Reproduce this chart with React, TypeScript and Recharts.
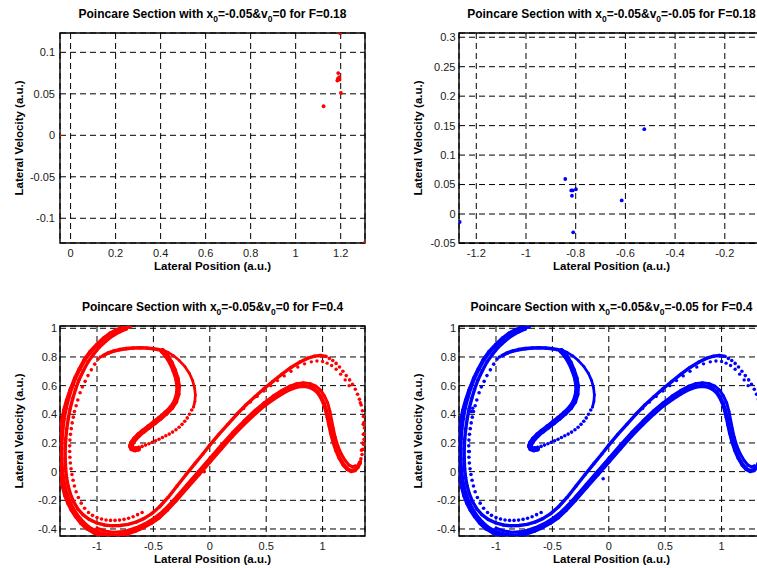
import React from 'react';
import { ScatterChart, Scatter, XAxis, YAxis, CartesianGrid, ReferenceArea } from 'recharts';

type XY = [number, number];

// ---------- F = 0.18 sections ----------
const sectionA018: XY[] = [
  [-0.05, 0], [1.197, 0.123], [1.189, 0.075], [1.193, 0.07], [1.187, 0.068],
  [1.195, 0.067], [1.185, 0.066], [1.201, 0.051], [1.124, 0.035], [1.305, -0.13],
];
const sectionB018: XY[] = [
  [-1.267, -0.0136], [-0.842, 0.0594], [-0.818, 0.04], [-0.812, 0.04], [-0.815, 0.031],
  [-0.799, 0.042], [-0.81, -0.031], [-0.615, 0.023], [-0.524, 0.144],
];

// ---------- F = 0.4 attractor strands ----------
const outerLoop: XY[] = [
  [-0.71, 1.012], [-0.76, 1.005], [-0.82, 0.99], [-0.88, 0.965], [-0.94, 0.93], [-1.0, 0.885],
  [-1.06, 0.835], [-1.11, 0.78], [-1.155, 0.715], [-1.195, 0.65], [-1.228, 0.58], [-1.255, 0.51],
  [-1.278, 0.44], [-1.294, 0.37], [-1.306, 0.3], [-1.313, 0.23], [-1.316, 0.16], [-1.315, 0.09],
  [-1.311, 0.02], [-1.302, -0.04], [-1.289, -0.1], [-1.27, -0.155], [-1.247, -0.205], [-1.216, -0.255],
  [-1.176, -0.305], [-1.128, -0.35], [-1.075, -0.388], [-1.01, -0.418], [-0.94, -0.438], [-0.87, -0.445],
  [-0.8, -0.443], [-0.73, -0.432], [-0.66, -0.413], [-0.59, -0.388], [-0.52, -0.358], [-0.45, -0.32],
  [-0.38, -0.268], [-0.3, -0.2], [-0.2, -0.11], [-0.1, -0.02], [0.0, 0.07], [0.1, 0.16],
  [0.2, 0.25], [0.3, 0.33], [0.4, 0.405], [0.48, 0.46], [0.56, 0.505], [0.64, 0.545],
  [0.71, 0.575], [0.77, 0.592], [0.83, 0.598], [0.88, 0.592], [0.92, 0.578], [0.955, 0.555],
  [0.985, 0.52], [1.01, 0.478], [1.03, 0.43], [1.045, 0.38], [1.06, 0.325], [1.075, 0.27],
  [1.095, 0.21], [1.12, 0.15], [1.15, 0.095], [1.185, 0.048], [1.22, 0.017], [1.255, 0.004],
  [1.285, 0.01], [1.31, 0.03], [1.33, 0.06],
];
const outerEdge: XY[] = [
  [-1.2, 0.64], [-1.24, 0.57], [-1.27, 0.5], [-1.295, 0.43], [-1.312, 0.36], [-1.324, 0.29],
  [-1.33, 0.22], [-1.332, 0.15], [-1.33, 0.08], [-1.326, 0.01], [-1.318, -0.05], [-1.305, -0.11],
  [-1.285, -0.17], [-1.26, -0.22], [-1.228, -0.27], [-1.19, -0.315], [-1.145, -0.36], [-1.09, -0.4],
  [-1.03, -0.428], [-0.96, -0.447], [-0.89, -0.455], [-0.82, -0.453],
];
const lowerSubBand: XY[] = [
  [-1.0, -0.395], [-0.93, -0.414], [-0.86, -0.422], [-0.79, -0.42], [-0.72, -0.408], [-0.65, -0.39],
  [-0.58, -0.365], [-0.51, -0.333], [-0.44, -0.292], [-0.37, -0.24], [-0.29, -0.17], [-0.2, -0.088],
  [-0.1, 0.003], [0.0, 0.094], [0.1, 0.184], [0.2, 0.272], [0.3, 0.352], [0.4, 0.427],
  [0.48, 0.48], [0.56, 0.527], [0.64, 0.567], [0.71, 0.597], [0.77, 0.614], [0.83, 0.62],
  [0.89, 0.614], [0.94, 0.597], [0.98, 0.57], [1.015, 0.53], [1.045, 0.48], [1.065, 0.42],
  [1.08, 0.36], [1.095, 0.3], [1.112, 0.24], [1.135, 0.18], [1.165, 0.125], [1.2, 0.078],
  [1.235, 0.045], [1.265, 0.033], [1.29, 0.04],
];
const innerLoop: XY[] = [
  [-0.74, 0.995], [-0.8, 0.975], [-0.86, 0.948], [-0.92, 0.912], [-0.98, 0.868], [-1.03, 0.82],
  [-1.08, 0.765], [-1.12, 0.705], [-1.16, 0.64], [-1.19, 0.575], [-1.215, 0.51], [-1.238, 0.44],
  [-1.255, 0.37], [-1.268, 0.3], [-1.277, 0.23], [-1.282, 0.16], [-1.282, 0.09], [-1.278, 0.02],
  [-1.27, -0.04], [-1.256, -0.1], [-1.236, -0.155], [-1.208, -0.21], [-1.17, -0.26], [-1.125, -0.3],
  [-1.07, -0.333], [-1.005, -0.357], [-0.935, -0.372], [-0.865, -0.378], [-0.795, -0.376], [-0.725, -0.368],
  [-0.655, -0.352], [-0.585, -0.328], [-0.515, -0.293], [-0.445, -0.245], [-0.37, -0.18], [-0.29, -0.1],
  [-0.21, -0.02], [-0.13, 0.058], [-0.06, 0.125], [0.0, 0.185], [0.08, 0.26], [0.16, 0.33],
  [0.24, 0.4], [0.32, 0.465], [0.4, 0.523], [0.48, 0.578], [0.56, 0.63], [0.64, 0.68],
  [0.72, 0.727], [0.8, 0.765], [0.87, 0.792], [0.93, 0.806], [0.98, 0.81], [1.03, 0.804],
];
const upperSubDots: XY[] = [
  [0.3, 0.44], [0.36, 0.485], [0.42, 0.525], [0.48, 0.562], [0.54, 0.6], [0.6, 0.635],
  [0.66, 0.668], [0.72, 0.7], [0.78, 0.73], [0.84, 0.752], [0.9, 0.766], [0.95, 0.772],
  [1.0, 0.768], [1.04, 0.757], [1.08, 0.74], [1.12, 0.714], [1.16, 0.68], [1.2, 0.64], [1.235, 0.6],
];
const rightEdgeDots: XY[] = [
  [1.06, 0.79], [1.09, 0.775], [1.12, 0.755], [1.15, 0.73], [1.18, 0.7], [1.21, 0.67],
  [1.24, 0.64], [1.265, 0.61], [1.29, 0.575], [1.31, 0.54], [1.327, 0.505], [1.342, 0.465],
  [1.353, 0.425], [1.362, 0.385], [1.368, 0.345], [1.371, 0.305], [1.371, 0.265], [1.368, 0.225],
  [1.364, 0.19], [1.358, 0.155], [1.35, 0.12], [1.34, 0.09], [1.335, 0.07],
  [1.335, 0.48], [1.36, 0.33], [1.362, 0.26], [1.355, 0.2], [1.345, 0.15],
];
const leftDottedStrand: XY[] = [
  [-0.97, 0.8], [-0.99, 0.785], [-1.02, 0.75], [-1.05, 0.71], [-1.08, 0.67], [-1.105, 0.63],
  [-1.13, 0.59], [-1.15, 0.55], [-1.17, 0.5], [-1.185, 0.46], [-1.2, 0.42], [-1.21, 0.38],
  [-1.22, 0.34], [-1.228, 0.3], [-1.235, 0.26], [-1.24, 0.22], [-1.242, 0.18], [-1.242, 0.14],
  [-1.24, 0.1], [-1.236, 0.06], [-1.23, 0.02], [-1.222, -0.02], [-1.212, -0.06], [-1.2, -0.1],
  [-1.185, -0.14], [-1.165, -0.18], [-1.14, -0.22], [-1.11, -0.255], [-1.075, -0.285], [-1.04, -0.305],
  [-1.0, -0.32], [-0.96, -0.33], [-0.92, -0.337], [-0.88, -0.34], [-0.84, -0.34], [-0.8, -0.338],
  [-0.76, -0.333], [-0.72, -0.325], [-0.68, -0.315], [-0.64, -0.3], [-0.6, -0.285],
];
const hookTop: XY[] = [
  [-0.945, 0.81], [-0.9, 0.828], [-0.85, 0.842], [-0.8, 0.851], [-0.74, 0.858], [-0.68, 0.862],
  [-0.62, 0.864], [-0.56, 0.862], [-0.5, 0.857], [-0.46, 0.852], [-0.42, 0.845],
];
const hookInner: XY[] = [
  [-0.42, 0.842], [-0.38, 0.805], [-0.345, 0.76], [-0.315, 0.705], [-0.292, 0.65], [-0.28, 0.595],
  [-0.285, 0.54], [-0.305, 0.49], [-0.34, 0.447], [-0.39, 0.408], [-0.44, 0.374], [-0.49, 0.343],
  [-0.54, 0.312], [-0.59, 0.282], [-0.63, 0.256], [-0.665, 0.228], [-0.69, 0.2], [-0.7, 0.178],
  [-0.69, 0.162], [-0.665, 0.155], [-0.635, 0.16],
];
const hookOuter: XY[] = [
  [-0.42, 0.848], [-0.37, 0.832], [-0.32, 0.808], [-0.27, 0.775], [-0.22, 0.732], [-0.18, 0.685],
  [-0.152, 0.635], [-0.135, 0.585], [-0.128, 0.535], [-0.132, 0.49], [-0.145, 0.45],
];
const hookOuterDots: XY[] = [
  [-0.16, 0.43], [-0.18, 0.4], [-0.2, 0.375], [-0.222, 0.352], [-0.246, 0.33], [-0.272, 0.31],
  [-0.3, 0.292], [-0.33, 0.276], [-0.36, 0.262], [-0.39, 0.25], [-0.42, 0.238], [-0.45, 0.226],
  [-0.48, 0.215], [-0.51, 0.205], [-0.54, 0.195], [-0.57, 0.185], [-0.6, 0.176], [-0.63, 0.169],
  [-0.66, 0.164],
];
const strayA04: XY[] = [[-0.05, 0]];
const strayB04: XY[] = [[-0.05, -0.05], [-1.207, 0.442], [-1.22, 0.42], [-1.237, 0.14]];

// ---------- axes ----------
const ticksXA018 = [0, 0.2, 0.4, 0.6, 0.8, 1, 1.2];
const ticksYA018 = [-0.1, -0.05, 0, 0.05, 0.1];
const ticksXB018 = [-1.2, -1, -0.8, -0.6, -0.4, -0.2];
const ticksYB018 = [-0.05, 0, 0.05, 0.1, 0.15, 0.2, 0.25, 0.3];
const ticksX04 = [-1, -0.5, 0, 0.5, 1];
const ticksY04 = [-0.4, -0.2, 0, 0.2, 0.4, 0.6, 0.8, 1];

const FONT = '"Liberation Sans", Arial, Helvetica, sans-serif';
const CHART_W = 380;
const CHART_H = 285;
const PLOT_TOP = 33;
const Y_AXIS_W = 60;
const RIGHT = 15;

const rows = (a: XY[]) => a.map(([x, y]) => ({ x, y }));

type Layer = { data: XY[]; line: number; r: number };

const attractorLayers: Layer[] = [
  { data: outerEdge, line: 3.2, r: 1.6 },
  { data: outerLoop, line: 4.2, r: 2.1 },
  { data: lowerSubBand, line: 3.0, r: 1.5 },
  { data: innerLoop, line: 3.4, r: 1.7 },
  { data: upperSubDots, line: 0, r: 1.7 },
  { data: rightEdgeDots, line: 0, r: 1.8 },
  { data: leftDottedStrand, line: 0, r: 1.8 },
  { data: hookTop, line: 3.6, r: 1.8 },
  { data: hookInner, line: 5.6, r: 2.8 },
  { data: hookOuter, line: 2.7, r: 1.4 },
  { data: hookOuterDots, line: 0, r: 1.8 },
];

const dotShape = (r: number, color: string) => (props: any) => (
  <circle cx={props.cx} cy={props.cy} r={r} fill={color} />
);

type TitleProps = { x0: string; v0: string; f: string; cx: number };

function Title({ x0, v0, f, cx }: TitleProps) {
  return (
    <svg width={CHART_W} height={28} style={{ position: 'absolute', left: 0, top: 0, overflow: 'visible' }}>
      <text x={cx} y={18} textAnchor="middle" fontFamily={FONT} fontSize={12} fontWeight="bold" fill="#000">
        {'Poincare Section with x'}
        <tspan dy={3.5} fontSize={8.5}>0</tspan>
        <tspan dy={-3.5}>{`=${x0}&v`}</tspan>
        <tspan dy={3.5} fontSize={8.5}>0</tspan>
        <tspan dy={-3.5}>{`=${v0} for F=${f}`}</tspan>
      </text>
    </svg>
  );
}

type PanelProps = {
  left: number;
  top: number;
  xDomain: [number, number];
  yDomain: [number, number];
  xTicks: number[];
  yTicks: number[];
  yGap: number;
  color: string;
  layers: Layer[];
  x0: string;
  v0: string;
  f: string;
};

function Panel({ left, top, xDomain, yDomain, xTicks, yTicks, yGap, color, layers, x0, v0, f }: PanelProps) {
  const tick = { fontSize: 11, fill: '#1a1a1a', fontFamily: FONT };
  const plotCx = Y_AXIS_W + (CHART_W - Y_AXIS_W - RIGHT) / 2;
  return (
    <div style={{ position: 'absolute', left, top, width: CHART_W, height: CHART_H }}>
      <ScatterChart width={CHART_W} height={CHART_H} margin={{ top: PLOT_TOP, right: RIGHT, bottom: 0, left: 0 }}>
        <CartesianGrid stroke="#000" strokeWidth={1} strokeDasharray="6 4" />
        <XAxis
          type="number"
          dataKey="x"
          domain={xDomain}
          ticks={xTicks}
          interval={0}
          allowDataOverflow
          height={CHART_H - PLOT_TOP - 210}
          axisLine={false}
          tickLine={false}
          tickSize={4}
          tickMargin={2.5}
          tick={tick}
          label={{
            value: 'Lateral Position (a.u.)',
            position: 'insideBottom',
            offset: 15,
            fontSize: 11.5,
            fontWeight: 'bold',
            fill: '#000',
            fontFamily: FONT,
          }}
        />
        <YAxis
          type="number"
          dataKey="y"
          domain={yDomain}
          ticks={yTicks}
          interval={0}
          allowDataOverflow
          width={Y_AXIS_W}
          axisLine={false}
          tickLine={false}
          tickSize={yGap - 1.5}
          tickMargin={1.5}
          tick={tick}
          label={{
            value: 'Lateral Velocity (a.u.)',
            angle: -90,
            position: 'insideLeft',
            offset: 19,
            textAnchor: 'middle',
            fontSize: 11.5,
            fontWeight: 'bold',
            fill: '#000',
            fontFamily: FONT,
          }}
        />
        <ReferenceArea
          x1={xDomain[0]}
          x2={xDomain[1]}
          y1={yDomain[0]}
          y2={yDomain[1]}
          fill="none"
          stroke="#000"
          strokeWidth={1.4}
          ifOverflow="visible"
        />
        {layers.map((layer, i) => (
          <Scatter
            key={i}
            data={rows(layer.data)}
            fill={color}
            isAnimationActive={false}
            shape={dotShape(layer.r, color)}
            line={
              layer.line > 0
                ? { stroke: color, strokeWidth: layer.line, strokeLinejoin: 'round', strokeLinecap: 'round', fill: 'none' }
                : false
            }
            lineType="joint"
          />
        ))}
      </ScatterChart>
      <Title x0={x0} v0={v0} f={f} cx={plotCx} />
    </div>
  );
}

export default function App() {
  return (
    <div
      style={{
        position: 'absolute',
        left: 0,
        top: 0,
        width: 757,
        height: 568,
        overflow: 'hidden',
        background: '#fff',
      }}
    >
      <Panel
        left={0}
        top={0}
        xDomain={[-0.047, 1.308]}
        yDomain={[-0.1298, 0.1233]}
        xTicks={ticksXA018}
        yTicks={ticksYA018}
        yGap={5}
        color="#ff0000"
        layers={[{ data: sectionA018, line: 0, r: 1.9 }]}
        x0="-0.05"
        v0="0"
        f="0.18"
      />
      <Panel
        left={399}
        top={0}
        xDomain={[-1.2696, -0.0423]}
        yDomain={[-0.0492, 0.3072]}
        xTicks={ticksXB018}
        yTicks={ticksYB018}
        yGap={3.5}
        color="#0000ff"
        layers={[{ data: sectionB018, line: 0, r: 1.9 }]}
        x0="-0.05"
        v0="-0.05"
        f="0.18"
      />
      <Panel
        left={0}
        top={293}
        xDomain={[-1.328, 1.376]}
        yDomain={[-0.449, 1.016]}
        xTicks={ticksX04}
        yTicks={ticksY04}
        yGap={3}
        color="#ff0000"
        layers={[...attractorLayers, { data: strayA04, line: 0, r: 1.8 }]}
        x0="-0.05"
        v0="0"
        f="0.4"
      />
      <Panel
        left={399}
        top={293}
        xDomain={[-1.328, 1.376]}
        yDomain={[-0.449, 1.016]}
        xTicks={ticksX04}
        yTicks={ticksY04}
        yGap={3}
        color="#0000ff"
        layers={[...attractorLayers, { data: strayB04, line: 0, r: 1.8 }]}
        x0="-0.05"
        v0="-0.05"
        f="0.4"
      />
    </div>
  );
}
